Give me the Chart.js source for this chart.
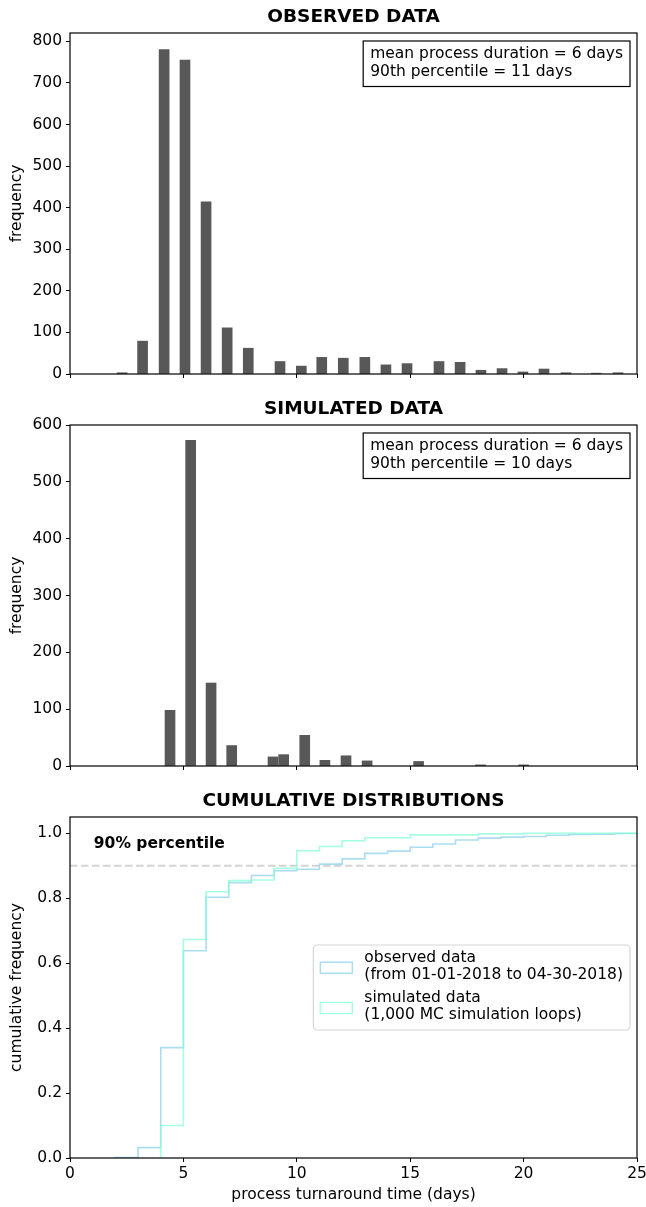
<!DOCTYPE html>
<html>
<head>
<meta charset="utf-8">
<script src="https://cdn.jsdelivr.net/npm/chart.js@4.4.1/dist/chart.umd.min.js"></script>
<style>
  body { margin: 0; background: #fff; width: 646px; height: 1207px; position: relative; overflow: hidden; }
  canvas { position: absolute; left: 0; }
</style>
</head>
<body>
<canvas id="obsChart" width="646" height="390" style="top:0"></canvas>
<canvas id="simChart" width="646" height="390" style="top:392px"></canvas>
<canvas id="cumChart" width="646" height="422" style="top:785px"></canvas>
<script>
const FONT = "'DejaVu Sans', 'Liberation Sans', sans-serif";

// histogram of observed durations (bin centre in days, count)
const obsDays = [2.3, 3.2, 4.15, 5.07, 6.0, 6.93, 7.86, 9.26, 10.2, 11.1, 12.05, 13.0, 13.93, 14.86, 16.27, 17.2, 18.12, 19.05, 19.97, 20.9, 21.87, 23.2, 24.16];
const obsCounts = [3, 79, 780, 755, 414, 111, 62, 30, 19, 40, 38, 40, 22, 25, 30, 28, 9, 13, 5, 12, 3, 2, 3];

// histogram of simulated durations
const simDays = [4.41, 5.32, 6.22, 7.13, 8.95, 9.42, 10.35, 11.24, 12.17, 13.1, 15.37, 18.1, 20.0];
const simCounts = [98, 573, 146, 36, 16, 20, 54, 10, 18, 9, 8, 2, 2];

// cumulative frequency, value held from each day to the next
const cdfObsDays = [2, 3, 4, 5, 6, 7, 8, 9, 10, 11, 12, 13, 14, 15, 16, 17, 18, 19, 20, 21, 22, 23, 24, 25];
const cdfObs = [0.0015, 0.032, 0.340, 0.638, 0.803, 0.848, 0.870, 0.885, 0.889, 0.905, 0.921, 0.938, 0.945, 0.957, 0.967, 0.979, 0.985, 0.988, 0.990, 0.994, 0.996, 0.997, 0.999, 1.0];
const cdfSimDays = [4, 5, 6, 7, 8, 9, 10, 11, 12, 13, 14, 15, 16, 17, 18, 19, 20, 21, 22, 23, 24, 25];
const cdfSim = [0.100, 0.673, 0.820, 0.854, 0.856, 0.892, 0.946, 0.959, 0.977, 0.986, 0.986, 0.995, 0.995, 0.995, 0.998, 0.998, 1.0, 1.0, 1.0, 1.0, 1.0, 1.0];

const percentileLevel = 0.9;
const percentileLabel = "90% percentile";
const percentileLabelAt = { x: 1.05, y: 0.966 };

const obsStats = ["mean process duration = 6 days", "90th percentile = 11 days"];
const simStats = ["mean process duration = 6 days", "90th percentile = 10 days"];
const obsLegend = ["observed data", "(from 01-01-2018 to 04-30-2018)"];
const simLegend = ["simulated data", "(1,000 MC simulation loops)"];

const BAR_COLOR = "#585858";
const OBS_COLOR = "rgba(135, 206, 235, 0.7)";
const SIM_COLOR = "rgba(127, 255, 212, 0.7)";

Chart.defaults.font.family = FONT;
Chart.defaults.font.size = 15.5;
Chart.defaults.color = "#000";
Chart.defaults.animation = false;
Chart.defaults.plugins.legend.display = false;
Chart.defaults.plugins.tooltip.enabled = false;

// frame, title, stats box, legend and annotation text
const framePlugin = {
    id: "frame",
    afterDraw(chart, args, opts) {
        const { ctx, chartArea: a } = chart;
        ctx.save();
        ctx.strokeStyle = "#000";
        ctx.lineWidth = 1.2;
        ctx.strokeRect(a.left, a.top, a.right - a.left, a.bottom - a.top);

        ctx.fillStyle = "#000";
        ctx.font = "bold 18.5px " + FONT;
        ctx.textAlign = "center";
        ctx.textBaseline = "middle";
        ctx.fillText(opts.title, (a.left + a.right) / 2, a.top - 16);

        if (opts.stats) {
            ctx.font = "15.5px " + FONT;
            const w = Math.max(...opts.stats.map((s) => ctx.measureText(s).width)) + 14;
            const left = a.right - 7 - w;
            const top = a.top + 8;
            ctx.fillStyle = "#fff";
            ctx.fillRect(left, top, w, 45.5);
            ctx.strokeStyle = "#000";
            ctx.lineWidth = 1.2;
            ctx.strokeRect(left, top, w, 45.5);
            ctx.fillStyle = "#000";
            ctx.textAlign = "left";
            opts.stats.forEach((s, i) => ctx.fillText(s, left + 7, top + 13 + i * 17.7));
        }

        if (opts.note) {
            const x = chart.scales.x.getPixelForValue(opts.note.at.x);
            const y = chart.scales.y.getPixelForValue(opts.note.at.y);
            ctx.font = "bold 15.5px " + FONT;
            ctx.textAlign = "left";
            ctx.fillStyle = "#000";
            ctx.fillText(opts.note.text, x, y);
        }

        if (opts.legend) {
            const items = chart.data.datasets.filter((d) => d.legendText);
            ctx.font = "15.5px " + FONT;
            const textW = Math.max(...items.flatMap((d) => d.legendText.map((t) => ctx.measureText(t).width)));
            const w = 51 + textW + 7;
            const h = 85;
            const left = a.right - 7 - w;
            const top = (a.top + a.bottom) / 2 - h / 2;
            ctx.beginPath();
            ctx.roundRect(left, top, w, h, 4);
            ctx.fillStyle = "rgba(255,255,255,0.8)";
            ctx.fill();
            ctx.strokeStyle = "#d6d6d6";
            ctx.lineWidth = 1.2;
            ctx.stroke();
            items.forEach((d, i) => {
                const y0 = top + 12.7 + i * 40.3;
                ctx.strokeStyle = d.borderColor;
                ctx.lineWidth = 1.5;
                ctx.strokeRect(left + 7, y0 + 4.5, 32, 11);
                ctx.fillStyle = "#000";
                ctx.textAlign = "left";
                d.legendText.forEach((t, j) => ctx.fillText(t, left + 51, y0 + j * 17.3));
            });
        }
        ctx.restore();
    },
};

function xAxis(showLabels, title) {
    return {
        type: "linear",
        min: 0,
        max: 25,
        offset: false,
        grid: { drawOnChartArea: false, drawTicks: true, tickLength: 4, color: "#000", offset: false },
        border: { display: false },
        ticks: {
            stepSize: 5,
            padding: 3,
            maxRotation: 0,
            autoSkip: false,
            includeBounds: false,
            callback: (v) => (showLabels ? String(v) : ""),
        },
        title: { display: !!title, text: title || "", padding: { top: 0, bottom: 3 } },
        afterFit: (s) => {
            s.height = showLabels ? 49 : 16;
            s.paddingLeft = 0;
            s.paddingRight = 0;
        },
    };
}

function yAxis(max, step, title, digits) {
    return {
        min: 0,
        max: max,
        grid: { drawOnChartArea: false, drawTicks: true, tickLength: 4, color: "#000" },
        border: { display: false },
        ticks: {
            stepSize: step,
            padding: 4,
            includeBounds: false,
            autoSkip: false,
            callback: (v) => v.toFixed(digits),
        },
        title: { display: true, text: title, padding: { top: 8, bottom: 0 } },
        afterFit: (s) => {
            s.width = 70;
            s.paddingTop = 0;
            s.paddingBottom = 0;
        },
    };
}

function histogram(id, days, counts, yMax, title, stats) {
    return new Chart(document.getElementById(id), {
        type: "bar",
        data: {
            datasets: [
                {
                    data: days.map((d, i) => ({ x: d, y: counts[i] })),
                    backgroundColor: BAR_COLOR,
                    borderWidth: 0,
                    barThickness: 10,
                },
            ],
        },
        options: {
            responsive: false,
            devicePixelRatio: 1,
            layout: { padding: { top: 33, right: 9, left: 0, bottom: 0 } },
            scales: {
                x: xAxis(false),
                y: yAxis(yMax, 100, "frequency", 0),
            },
            plugins: { frame: { title: title, stats: stats } },
        },
        plugins: [framePlugin],
    });
}

histogram("obsChart", obsDays, obsCounts, 820, "OBSERVED DATA", obsStats);
histogram("simChart", simDays, simCounts, 600, "SIMULATED DATA", simStats);

function stepPoints(days, values) {
    // start from the baseline like a step histogram
    return [{ x: days[0], y: 0 }].concat(days.map((d, i) => ({ x: d, y: values[i] })));
}

new Chart(document.getElementById("cumChart"), {
    type: "line",
    data: {
        datasets: [
            {
                label: obsLegend.join(" "),
                legendText: obsLegend,
                data: stepPoints(cdfObsDays, cdfObs),
                borderColor: OBS_COLOR,
                borderWidth: 1.6,
                stepped: "before",
                pointRadius: 0,
                fill: false,
                order: 2,
            },
            {
                label: simLegend.join(" "),
                legendText: simLegend,
                data: stepPoints(cdfSimDays, cdfSim),
                borderColor: SIM_COLOR,
                borderWidth: 1.6,
                stepped: "before",
                pointRadius: 0,
                fill: false,
                order: 1,
            },
            {
                label: "90th percentile",
                data: [
                    { x: 0, y: percentileLevel },
                    { x: 25, y: percentileLevel },
                ],
                borderColor: "#d3d3d3",
                borderWidth: 2,
                borderDash: [7.5, 3.5],
                pointRadius: 0,
                fill: false,
                order: 3,
            },
        ],
    },
    options: {
        responsive: false,
        devicePixelRatio: 1,
        layout: { padding: { top: 32, right: 9, left: 0, bottom: 0 } },
        scales: {
            x: xAxis(true, "process turnaround time (days)"),
            y: yAxis(1.05, 0.2, "cumulative frequency", 1),
        },
        plugins: {
            frame: {
                title: "CUMULATIVE DISTRIBUTIONS",
                legend: true,
                note: { text: percentileLabel, at: percentileLabelAt },
            },
        },
    },
    plugins: [framePlugin],
});
</script>
</body>
</html>
